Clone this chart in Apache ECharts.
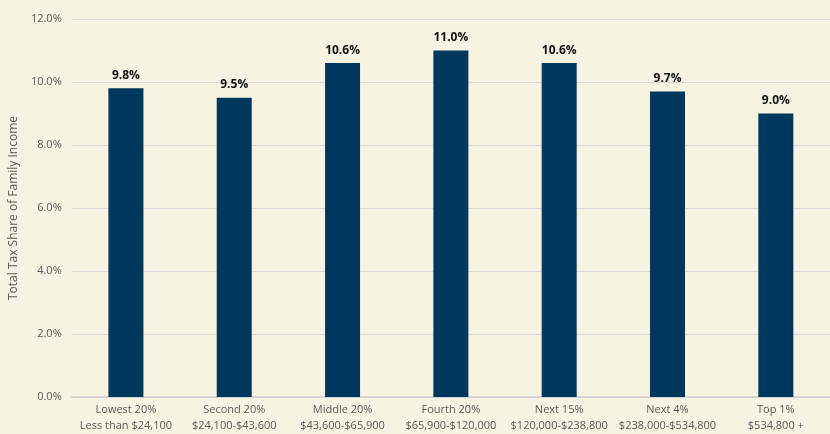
<!DOCTYPE html>
<html><head><meta charset="utf-8">
<script src="https://cdn.jsdelivr.net/npm/echarts@6/dist/echarts.min.js"></script>
<style>html,body{margin:0;padding:0;background:#F6F3E2;}#c{width:830px;height:434px;}</style>
</head><body><div id="c"></div>
<script>
const categories = ["Lowest 20%\nLess than $24,100","Second 20%\n$24,100-$43,600","Middle 20%\n$43,600-$65,900","Fourth 20%\n$65,900-$120,000","Next 15%\n$120,000-$238,800","Next 4%\n$238,000-$534,800","Top 1%\n$534,800 +"];
const values = [9.8, 9.5, 10.6, 11.0, 10.6, 9.7, 9.0];
const yTicks = [0, 2, 4, 6, 8, 10, 12];
const chart = echarts.init(document.getElementById('c'));
chart.setOption({
  backgroundColor: '#F6F3E2',
  animation: false,
  grid: {left: 69, right: -9, top: 19, bottom: 34},
  xAxis: {
    type: 'category', data: categories,
    axisLine: {lineStyle: {color: '#D0D0D0', width: 1.5}},
    axisTick: {show: false},
    axisLabel: {interval: 0, color: '#595959', fontFamily: 'Open Sans', fontSize: 11, lineHeight: 16, margin: 5}
  },
  yAxis: {
    type: 'value', min: yTicks[0], max: yTicks[yTicks.length-1], interval: 2,
    name: 'Total Tax Share of Family Income', nameLocation: 'middle', nameGap: 46,
    nameTextStyle: {color: '#595959', fontFamily: 'Open Sans', fontSize: 12},
    axisLine: {show: false}, axisTick: {show: false},
    axisLabel: {color: '#595959', fontFamily: 'Open Sans', fontSize: 11, formatter: v => v.toFixed(1) + '%', margin: 10},
    splitLine: {lineStyle: {color: '#D9D9D9', width: 1}}
  },
  series: [{
    type: 'bar', data: values, barWidth: 35,
    itemStyle: {color: '#00375C'},
    label: {show: true, position: 'top', distance: 7, color: '#111', fontWeight: 'bold', fontFamily: 'Open Sans', fontSize: 12, formatter: p => p.value.toFixed(1) + '%'}
  }]
});
</script></body></html>
